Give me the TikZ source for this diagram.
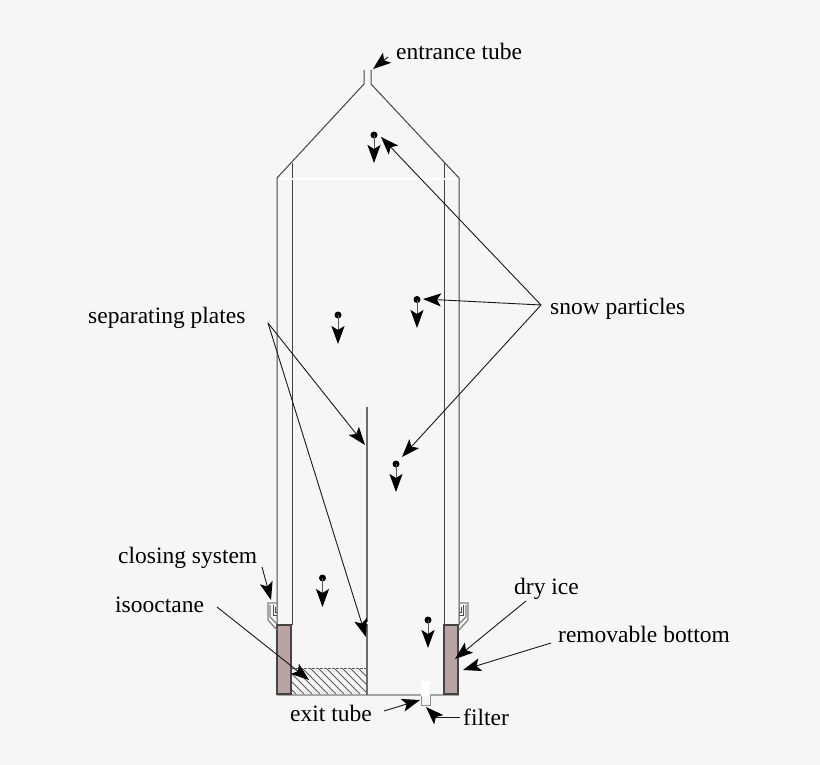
\documentclass[tikz,border=0pt]{standalone}
\usepackage{fontspec}
\setmainfont{Liberation Serif}
\usetikzlibrary{arrows.meta}
\definecolor{bgc}{HTML}{F6F6F6}
\definecolor{icec}{HTML}{B9A3A3}
\definecolor{wall}{HTML}{444444}
\tikzset{
 wallline/.style={draw=wall,line width=1pt},
 lbl/.style={font=\fontsize{23.5}{25}\selectfont,text=black,inner sep=0pt,anchor=base west},
 ptr/.style={draw=black!90,line width=0.9pt,-{Stealth[length=18pt,width=13pt,inset=4pt,black]}},
 fall/.style={draw=black!65,line width=1pt,-{Stealth[length=18pt,width=13pt,inset=4pt,black]}},
 dotp/.style={circle,fill=black,inner sep=0pt,minimum size=7pt},
 icebox/.style={fill=icec,draw=wall,line width=1.3pt},
}
\begin{document}
\begin{tikzpicture}[x=1pt,y=-1pt]
\useasboundingbox (0,0) rectangle (820,765);
\fill[bgc] (0,0) rectangle (820,765);
% hatch
\begin{scope}
\clip (292,668) rectangle (367,694);
\foreach \k in {0,8,...,120}{\draw[draw=gray!70!black,line width=0.9pt] (262+\k,668) -- (288+\k,694);}
\end{scope}
\draw[gray!70!black,line width=0.8pt,dash pattern=on 3pt off 1pt] (292,668) -- (367,668);
% body
\draw[wallline] (364,70) -- (364,84) -- (277,178) -- (277,625);
\draw[wallline] (371,70) -- (371,84) -- (459,178) -- (459,625);
\draw[wallline] (292,163) -- (292,625);
\draw[wallline] (444,163) -- (444,625);
\draw[white,line width=2.5pt] (278,179) -- (458,179);
% bottom
\draw[gray!70,line width=1.5pt] (277,695) -- (459,695);
\draw[gray!85!black,line width=1.1pt] (367,407) -- (367,695);
\draw[white,line width=1.5pt] (367,622) -- (367,624);
\draw[icebox] (277,625) rectangle (291,694);
\draw[icebox] (444,625) rectangle (458,694);
% closing clips
\foreach \s/\o in {1/277,-1/459}{
 \begin{scope}[xshift=\o pt,x=\s pt]
 \draw[gray,line width=1.2pt] (0,603) -- (-9,603) -- (-9,620) -- (0,630);
 \draw[gray,line width=1.2pt] (-7,605) -- (-7,617) -- (0,624);
 \draw[gray!60!black,line width=1pt] (-4,605) -- (-4,615) -- (0,615);
 \draw[gray!60!black,line width=1pt] (-2,607) -- (-2,612) -- (0,612);
 \end{scope}}
% filter
\draw[wall!60,fill=bgc,line width=0.8pt] (421,695) rectangle (430,705);
\fill[white] (421,681) rectangle (430,696);
% particles
\node[dotp] (p1) at (374,135) {};
\node[dotp] (p2) at (417,299.500) {};
\node[dotp] (p3) at (338,315) {};
\node[dotp] (p4) at (396,464) {};
\node[dotp] (p5) at (322.500,578) {};
\node[dotp] (p6) at (428,620) {};
\coordinate (f1) at (374,163);
\coordinate (f2) at (417,328);
\coordinate (f3) at (338,344);
\coordinate (f4) at (396,492);
\coordinate (f5) at (322.500,607);
\coordinate (f6) at (428,648);
\foreach \i in {1,...,6}{\draw[fall] (p\i.center) -- (f\i);}
% labels
\node[lbl] (entrance) at (396,60) {entrance tube};
\node[lbl] (snow) at (550,314) {snow particles};
\node[lbl] (plates) at (88,323) {separating plates};
\node[lbl] (closing) at (118,563) {closing system};
\node[lbl] (iso) at (115,612) {isooctane};
\node[lbl] (dry) at (514,594) {dry ice};
\node[lbl] (remov) at (558,642) {removable bottom};
\node[lbl] (exit) at (290,721) {exit tube};
\node[lbl] (filter) at (463,725) {filter};
% pointer ends
\coordinate (aEnt) at (373,69);
\coordinate (entA) at (388,57);
\coordinate (sA) at (541,305);
\coordinate (aS1) at (381,137);
\coordinate (aS2) at (423,299);
\coordinate (aS3) at (402,457);
\coordinate (pA) at (268,323);
\coordinate (aP1) at (365,445);
\coordinate (aP2) at (366,637);
\coordinate (cA) at (262,567);
\coordinate (aC) at (271,600);
\coordinate (iA) at (217,607);
\coordinate (aI) at (309,680);
\coordinate (dA) at (526,601);
\coordinate (aD) at (455,659);
\coordinate (rA) at (551,643);
\coordinate (aR) at (463,670);
\coordinate (eA) at (384,711);
\coordinate (aE) at (420,700);
\coordinate (flS) at (460,717);
\coordinate (flA) at (436,717);
\coordinate (aF) at (426,707);
\draw[ptr] (entA) -- (aEnt);
\draw[ptr] (sA) -- (aS1);
\draw[ptr] (sA) -- (aS2);
\draw[ptr] (sA) -- (aS3);
\draw[ptr] (pA) -- (aP1);
\draw[ptr] (pA) -- (aP2);
\draw[ptr] (cA) -- (aC);
\draw[ptr] (iA) -- (aI);
\draw[ptr] (dA) -- (aD);
\draw[ptr] (rA) -- (aR);
\draw[ptr] (eA) -- (aE);
\draw[draw=black!90,line width=0.9pt] (flS) -- (flA);
\draw[ptr] (flA) -- (aF);
\end{tikzpicture}
\end{document}
